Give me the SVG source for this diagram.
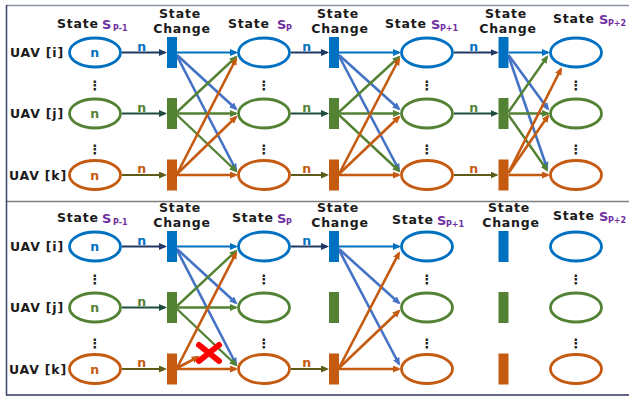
<svg xmlns="http://www.w3.org/2000/svg" width="629" height="399" viewBox="0 0 629 399">
<style>
.t{font-family:"DejaVu Sans",Verdana,sans-serif;font-weight:bold;fill:#1a1a1a;font-size:12.5px;letter-spacing:0.8px}
.c{text-anchor:middle}
.s{fill:#7030A0;font-size:13px;letter-spacing:0}
.sub{fill:#7030A0;font-size:8px;letter-spacing:0}
.dots{font-family:"DejaVu Sans",sans-serif;font-weight:bold;font-size:13px;fill:#1a1a1a;text-anchor:middle}
.nb{fill:#0070C0}.ng{fill:#548235}.no{fill:#C55A11}
.eb{fill:#fff;stroke:#0070C0;stroke-width:2.8}
.eg{fill:#fff;stroke:#548235;stroke-width:2.8}
.eo{fill:#fff;stroke:#C55A11;stroke-width:2.8}
.bb{fill:#0070C0}.bg{fill:#548235}.bo{fill:#C55A11}
.lb{stroke:#0070C0;stroke-width:2.2;marker-end:url(#mb)}
.lb2{stroke:#4472C4;stroke-width:2.6;marker-end:url(#mb2)}
.lg{stroke:#548235;stroke-width:2.4;marker-end:url(#mg)}
.lo{stroke:#C55A11;stroke-width:2.6;marker-end:url(#mo)}
.an{stroke:#203864;stroke-width:2.2;marker-end:url(#mn)}
.ad{stroke:#1E4D3E;stroke-width:2.2;marker-end:url(#md)}
.ao{stroke:#5E5A18;stroke-width:2.2;marker-end:url(#ml)}
</style>
<defs>
<marker id="mb" markerUnits="userSpaceOnUse" markerWidth="9" markerHeight="8" refX="6" refY="3.5" orient="auto"><path d="M0,0L8,3.5L0,7z" fill="#0070C0"/></marker>
<marker id="mb2" markerUnits="userSpaceOnUse" markerWidth="9" markerHeight="8" refX="6" refY="3.5" orient="auto"><path d="M0,0L8,3.5L0,7z" fill="#4472C4"/></marker>
<marker id="mg" markerUnits="userSpaceOnUse" markerWidth="9" markerHeight="8" refX="6" refY="3.5" orient="auto"><path d="M0,0L8,3.5L0,7z" fill="#548235"/></marker>
<marker id="mo" markerUnits="userSpaceOnUse" markerWidth="9" markerHeight="8" refX="6" refY="3.5" orient="auto"><path d="M0,0L8,3.5L0,7z" fill="#C55A11"/></marker>
<marker id="mn" markerUnits="userSpaceOnUse" markerWidth="9" markerHeight="8" refX="6" refY="3.5" orient="auto"><path d="M0,0L8,3.5L0,7z" fill="#203864"/></marker>
<marker id="md" markerUnits="userSpaceOnUse" markerWidth="9" markerHeight="8" refX="6" refY="3.5" orient="auto"><path d="M0,0L8,3.5L0,7z" fill="#1E4D3E"/></marker>
<marker id="ml" markerUnits="userSpaceOnUse" markerWidth="9" markerHeight="8" refX="6" refY="3.5" orient="auto"><path d="M0,0L8,3.5L0,7z" fill="#5E5A18"/></marker>
</defs>
<rect width="629" height="399" fill="#fff"/>
<g id="frame">
<line x1="6" y1="5.5" x2="629" y2="5.5" stroke="#8A94A8" stroke-width="1.5"/>
<line x1="6" y1="201.5" x2="629" y2="201.5" stroke="#7F7F7F" stroke-width="1.5"/>
<line x1="6" y1="395" x2="629" y2="395" stroke="#2B3560" stroke-width="1.5"/>
<line x1="6.5" y1="5" x2="6.5" y2="395.5" stroke="#3A4668" stroke-width="1.5"/>
</g>
<g id="titles">
<text class="t" x="57" y="28">State<tspan class="s" x="102" y="29">S</tspan><tspan class="sub" x="113" y="31">P-1</tspan></text>
<text class="t c" x="180" y="18">State</text><text class="t c" x="182" y="33">Change</text>
<text class="t" x="228" y="28">State<tspan class="s" x="277" y="29">S</tspan><tspan class="sub" x="286" y="31">P</tspan></text>
<text class="t c" x="338" y="18">State</text><text class="t c" x="340" y="33">Change</text>
<text class="t" x="385" y="28">State<tspan class="s" x="431" y="29">S</tspan><tspan class="sub" x="440" y="31">P+1</tspan></text>
<text class="t c" x="506" y="18">State</text><text class="t c" x="508" y="33">Change</text>
<text class="t" x="553" y="23">State<tspan class="s" x="599" y="24">S</tspan><tspan class="sub" x="608" y="26">P+2</tspan></text>
<text class="t" x="57" y="222">State<tspan class="s" x="102" y="223">S</tspan><tspan class="sub" x="113" y="225">P-1</tspan></text>
<text class="t c" x="180" y="212">State</text><text class="t c" x="182" y="227">Change</text>
<text class="t" x="232" y="222">State<tspan class="s" x="277" y="223">S</tspan><tspan class="sub" x="286" y="225">P</tspan></text>
<text class="t c" x="338" y="212">State</text><text class="t c" x="340" y="227">Change</text>
<text class="t" x="392" y="224">State<tspan class="s" x="437" y="225">S</tspan><tspan class="sub" x="446" y="227">P+1</tspan></text>
<text class="t c" x="509" y="212">State</text><text class="t c" x="511" y="227">Change</text>
<text class="t" x="553" y="220">State<tspan class="s" x="599" y="221">S</tspan><tspan class="sub" x="608" y="223">P+2</tspan></text>
</g>
<g id="uav-labels">
<text class="t" x="10" y="57">UAV [i]</text>
<text class="t" x="10" y="118">UAV [j]</text>
<text class="t" x="9" y="180">UAV [k]</text>
<text class="t" x="10" y="251">UAV [i]</text>
<text class="t" x="10" y="312">UAV [j]</text>
<text class="t" x="9" y="374">UAV [k]</text>
</g>
<g id="dots">
<text class="dots" x="95" y="90">⋮</text><text class="dots" x="95" y="154">⋮</text>
<text class="dots" x="264" y="90">⋮</text><text class="dots" x="264" y="154">⋮</text>
<text class="dots" x="427" y="90">⋮</text><text class="dots" x="427" y="154">⋮</text>
<text class="dots" x="576" y="90">⋮</text><text class="dots" x="576" y="154">⋮</text>
<text class="dots" x="95" y="284">⋮</text><text class="dots" x="95" y="348">⋮</text>
<text class="dots" x="264" y="284">⋮</text><text class="dots" x="264" y="348">⋮</text>
<text class="dots" x="427" y="284">⋮</text><text class="dots" x="427" y="348">⋮</text>
<text class="dots" x="576" y="284">⋮</text><text class="dots" x="576" y="348">⋮</text>
</g>
<g id="connectors">
<line class="an" x1="122" y1="52.5" x2="165" y2="52.5"/>
<line class="ad" x1="122" y1="113.5" x2="165" y2="113.5"/>
<line class="ao" x1="122" y1="175" x2="165" y2="175"/>
<line class="an" x1="291" y1="52.5" x2="327" y2="52.5"/>
<line class="ad" x1="291" y1="113.5" x2="327" y2="113.5"/>
<line class="ao" x1="291" y1="175" x2="327" y2="175"/>
<line class="an" x1="454" y1="52.5" x2="496.5" y2="52.5"/>
<line class="ad" x1="454" y1="113.5" x2="496.5" y2="113.5"/>
<line class="ao" x1="454" y1="175" x2="496.5" y2="175"/>
<line class="lb" x1="177" y1="52.5" x2="236" y2="52.5"/>
<line class="lb2" x1="177" y1="55" x2="236" y2="109"/>
<line class="lb2" x1="177" y1="56" x2="236" y2="170"/>
<line class="lg" x1="177" y1="112" x2="236" y2="57"/>
<line class="lg" x1="177" y1="113.5" x2="236" y2="113.5"/>
<line class="lg" x1="177" y1="115" x2="236" y2="171"/>
<line class="lo" x1="177" y1="174" x2="236" y2="59"/>
<line class="lo" x1="177" y1="174" x2="236" y2="117"/>
<line class="lo" x1="177" y1="175" x2="236" y2="175"/>
<line class="lb" x1="339" y1="52.5" x2="399" y2="52.5"/>
<line class="lb2" x1="339" y1="55" x2="399" y2="109"/>
<line class="lb2" x1="339" y1="56" x2="399" y2="170"/>
<line class="lg" x1="339" y1="112" x2="399" y2="57"/>
<line class="lg" x1="339" y1="113.5" x2="399" y2="113.5"/>
<line class="lg" x1="339" y1="115" x2="399" y2="171"/>
<line class="lo" x1="339" y1="174" x2="399" y2="59"/>
<line class="lo" x1="339" y1="174" x2="399" y2="117"/>
<line class="lo" x1="339" y1="175" x2="399" y2="175"/>
<line class="lb" x1="508.5" y1="52.5" x2="548" y2="52.5"/>
<line class="lb2" x1="508.5" y1="55" x2="548" y2="109"/>
<line class="lb2" x1="508.5" y1="56" x2="547" y2="168"/>
<line class="lg" x1="508.5" y1="112" x2="547" y2="57"/>
<line class="lg" x1="508.5" y1="113.5" x2="548" y2="113.5"/>
<line class="lg" x1="508.5" y1="115" x2="547" y2="170"/>
<line class="lo" x1="508.5" y1="173" x2="561" y2="69"/>
<line class="lo" x1="508.5" y1="173" x2="548" y2="116"/>
<line class="lo" x1="508.5" y1="175" x2="548" y2="175"/>
<line class="an" x1="122" y1="246.5" x2="165" y2="246.5"/>
<line class="ad" x1="122" y1="307.5" x2="165" y2="307.5"/>
<line class="ao" x1="122" y1="369" x2="165" y2="369"/>
<line class="an" x1="291" y1="246.5" x2="327" y2="246.5"/>
<line class="ao" x1="291" y1="369" x2="327" y2="369"/>
<line class="lb" x1="177" y1="246.5" x2="236" y2="246.5"/>
<line class="lb2" x1="177" y1="249" x2="236" y2="303"/>
<line class="lb2" x1="177" y1="250" x2="236" y2="364"/>
<line class="lg" x1="177" y1="306" x2="236" y2="251"/>
<line class="lg" x1="177" y1="307.5" x2="236" y2="307.5"/>
<line class="lg" x1="177" y1="309" x2="236" y2="365"/>
<line class="lo" x1="177" y1="368" x2="236" y2="253"/>
<line class="lo" x1="177" y1="368" x2="198" y2="357"/>
<line class="lo" x1="177" y1="369" x2="236" y2="369"/>
<line class="lb" x1="339" y1="246.5" x2="399" y2="246.5"/>
<line class="lb2" x1="339" y1="249" x2="399" y2="303"/>
<line class="lb2" x1="339" y1="250" x2="399" y2="364"/>
<line class="lo" x1="339" y1="368" x2="399" y2="253"/>
<line class="lo" x1="339" y1="368" x2="399" y2="311"/>
<line class="lo" x1="339" y1="369" x2="399" y2="369"/>
</g>
<g id="n-labels">
<text class="t c nb" x="142" y="50.5">n</text><text class="t c ng" x="142" y="111.5">n</text><text class="t c no" x="142" y="173">n</text>
<text class="t c nb" x="307" y="50.5">n</text><text class="t c ng" x="307" y="111.5">n</text><text class="t c no" x="307" y="173">n</text>
<text class="t c nb" x="474" y="50.5">n</text><text class="t c ng" x="474" y="111.5">n</text><text class="t c no" x="474" y="173">n</text>
<text class="t c nb" x="142" y="244.5">n</text><text class="t c ng" x="142" y="305.5">n</text><text class="t c no" x="142" y="367">n</text>
<text class="t c nb" x="307" y="244.5">n</text><text class="t c no" x="307" y="367">n</text>
</g>
<g id="blocked">
<path d="M199,345L219,361M219,345L199,361" stroke="#FF0000" stroke-width="6" stroke-linecap="round"/>
</g>
<g id="top-s1-i"><ellipse class="eb" cx="95" cy="52.5" rx="25.5" ry="14.5"/><text class="t c nb" x="95" y="57">n</text></g>
<g id="top-s1-j"><ellipse class="eg" cx="95" cy="113.5" rx="25.5" ry="14.5"/><text class="t c ng" x="95" y="118">n</text></g>
<g id="top-s1-k"><ellipse class="eo" cx="95" cy="175" rx="25.5" ry="14.5"/><text class="t c no" x="95" y="179.5">n</text></g>
<g id="top-c1-i"><rect class="bb" x="167" y="37" width="10" height="31"/></g>
<g id="top-c1-j"><rect class="bg" x="167" y="98" width="10" height="31"/></g>
<g id="top-c1-k"><rect class="bo" x="167" y="159.5" width="10" height="31"/></g>
<g id="top-s2-i"><ellipse class="eb" cx="264" cy="52.5" rx="25.5" ry="14.5"/></g>
<g id="top-s2-j"><ellipse class="eg" cx="264" cy="113.5" rx="25.5" ry="14.5"/></g>
<g id="top-s2-k"><ellipse class="eo" cx="264" cy="175" rx="25.5" ry="14.5"/></g>
<g id="top-c2-i"><rect class="bb" x="329" y="37" width="10" height="31"/></g>
<g id="top-c2-j"><rect class="bg" x="329" y="98" width="10" height="31"/></g>
<g id="top-c2-k"><rect class="bo" x="329" y="159.5" width="10" height="31"/></g>
<g id="top-s3-i"><ellipse class="eb" cx="427" cy="52.5" rx="25.5" ry="14.5"/></g>
<g id="top-s3-j"><ellipse class="eg" cx="427" cy="113.5" rx="25.5" ry="14.5"/></g>
<g id="top-s3-k"><ellipse class="eo" cx="427" cy="175" rx="25.5" ry="14.5"/></g>
<g id="top-c3-i"><rect class="bb" x="498.5" y="37" width="10" height="31"/></g>
<g id="top-c3-j"><rect class="bg" x="498.5" y="98" width="10" height="31"/></g>
<g id="top-c3-k"><rect class="bo" x="498.5" y="159.5" width="10" height="31"/></g>
<g id="top-s4-i"><ellipse class="eb" cx="576" cy="52.5" rx="25.5" ry="14.5" fill-opacity="0"/></g>
<g id="top-s4-j"><ellipse class="eg" cx="576" cy="113.5" rx="25.5" ry="14.5" fill-opacity="0"/></g>
<g id="top-s4-k"><ellipse class="eo" cx="576" cy="175" rx="25.5" ry="14.5" fill-opacity="0"/></g>
<g id="bot-s1-i"><ellipse class="eb" cx="95" cy="246.5" rx="25.5" ry="14.5"/><text class="t c nb" x="95" y="251">n</text></g>
<g id="bot-s1-j"><ellipse class="eg" cx="95" cy="307.5" rx="25.5" ry="14.5"/><text class="t c ng" x="95" y="312">n</text></g>
<g id="bot-s1-k"><ellipse class="eo" cx="95" cy="369" rx="25.5" ry="14.5"/><text class="t c no" x="95" y="373.5">n</text></g>
<g id="bot-c1-i"><rect class="bb" x="167" y="231" width="10" height="31"/></g>
<g id="bot-c1-j"><rect class="bg" x="167" y="292" width="10" height="31"/></g>
<g id="bot-c1-k"><rect class="bo" x="167" y="353.5" width="10" height="31"/></g>
<g id="bot-s2-i"><ellipse class="eb" cx="264" cy="246.5" rx="25.5" ry="14.5"/></g>
<g id="bot-s2-j"><ellipse class="eg" cx="264" cy="307.5" rx="25.5" ry="14.5"/></g>
<g id="bot-s2-k"><ellipse class="eo" cx="264" cy="369" rx="25.5" ry="14.5"/></g>
<g id="bot-c2-i"><rect class="bb" x="329" y="231" width="10" height="31"/></g>
<g id="bot-c2-j"><rect class="bg" x="329" y="292" width="10" height="31"/></g>
<g id="bot-c2-k"><rect class="bo" x="329" y="353.5" width="10" height="31"/></g>
<g id="bot-s3-i"><ellipse class="eb" cx="427" cy="246.5" rx="25.5" ry="14.5"/></g>
<g id="bot-s3-j"><ellipse class="eg" cx="427" cy="307.5" rx="25.5" ry="14.5"/></g>
<g id="bot-s3-k"><ellipse class="eo" cx="427" cy="369" rx="25.5" ry="14.5"/></g>
<g id="bot-c3-i"><rect class="bb" x="498.5" y="231" width="10" height="31"/></g>
<g id="bot-c3-j"><rect class="bg" x="498.5" y="292" width="10" height="31"/></g>
<g id="bot-c3-k"><rect class="bo" x="498.5" y="353.5" width="10" height="31"/></g>
<g id="bot-s4-i"><ellipse class="eb" cx="576" cy="246.5" rx="25.5" ry="14.5"/></g>
<g id="bot-s4-j"><ellipse class="eg" cx="576" cy="307.5" rx="25.5" ry="14.5"/></g>
<g id="bot-s4-k"><ellipse class="eo" cx="576" cy="369" rx="25.5" ry="14.5"/></g>
</svg>
